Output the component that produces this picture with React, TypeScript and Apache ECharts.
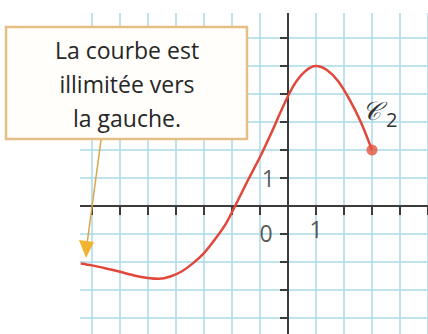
import React, { useEffect, useRef } from "react";
import * as echarts from "echarts";

// ---- data ----
const curveX = [-7.4, -7, -6.5, -6, -5.5, -5, -4.6, -4.2, -3.8, -3.4, -3, -2.6, -2.2, -1.8, -1.4, -1, -0.6, -0.2, 0.2, 0.6, 1, 1.4, 1.8, 2.2, 2.6, 3];
const curveY = [-2.05, -2.12, -2.23, -2.35, -2.48, -2.57, -2.6, -2.52, -2.34, -2.05, -1.68, -1.18, -0.6, 0.18, 0.98, 1.75, 2.6, 3.5, 4.3, 4.8, 5.0, 4.85, 4.45, 3.8, 3.0, 2.0];
const endPoint = [3, 2];
const xRange = [-8, 5];
const yRange = [-5, 7];
const xTickLabel = { value: 1, text: "1" };
const yTickLabel = { value: 1, text: "1" };
const originLabel = "0";
const annotationLines = ["La courbe est", "illimitée vers", "la gauche."];
const curveName = "𝒞";
const curveIndex = "2";

const GRID_COLOR = "#a9dae8";
const AXIS_COLOR = "#3b3b3b";
const CURVE_COLOR = "#e2473b";
const FONT = "'Open Sans', 'DejaVu Sans', sans-serif";

export default function App() {
  const ref = useRef<HTMLDivElement>(null);

  useEffect(() => {
    document.body.style.margin = "0";
    const chart = echarts.init(ref.current!, null, { renderer: "svg" });
    const curveData = curveX.map((x, i) => [x, curveY[i]]);

    const baseAxis = (min: number, max: number) => ({
      type: "value" as const,
      min,
      max,
      interval: 1,
    });

    const labelSeries = (point: number[], text: string, label: any) => ({
      type: "scatter",
      xAxisIndex: 1,
      yAxisIndex: 1,
      z: 5,
      silent: true,
      symbolSize: 0,
      data: [point],
      itemStyle: { color: "transparent" },
      label: {
        show: true,
        formatter: () => text,
        color: "#2e2e2e",
        fontSize: 23,
        fontFamily: FONT,
        ...label,
      },
    });

    chart.setOption({
      animation: false,
      backgroundColor: "#ffffff",
      grid: {
        left: 64,
        top: 10,
        width: 364,
        height: 336,
        containLabel: false,
        outerBoundsMode: "none",
      },
      xAxis: [
        {
          ...baseAxis(xRange[0], xRange[1]),
          z: 0,
          axisLine: { show: false },
          axisTick: { show: false },
          axisLabel: { show: false },
          splitLine: { show: true, lineStyle: { color: GRID_COLOR, width: 1.5 } },
        },
        {
          ...baseAxis(xRange[0], xRange[1]),
          z: 2,
          position: "bottom",
          axisLine: { show: true, onZero: true, onZeroAxisIndex: 1, lineStyle: { color: AXIS_COLOR, width: 2 } },
          axisTick: { show: true, inside: false, length: 9, lineStyle: { color: AXIS_COLOR, width: 2 } },
          axisLabel: { show: false },
          splitLine: { show: false },
        },
      ],
      yAxis: [
        {
          ...baseAxis(yRange[0], yRange[1]),
          z: 0,
          axisLine: { show: false },
          axisTick: { show: false },
          axisLabel: { show: false },
          splitLine: { show: true, lineStyle: { color: GRID_COLOR, width: 1.5 } },
        },
        {
          ...baseAxis(yRange[0], yRange[1]),
          z: 2,
          position: "left",
          axisLine: { show: true, onZero: true, onZeroAxisIndex: 1, lineStyle: { color: AXIS_COLOR, width: 2 } },
          axisTick: { show: true, inside: false, length: 8, lineStyle: { color: AXIS_COLOR, width: 2 } },
          axisLabel: { show: false },
          splitLine: { show: false },
        },
      ],
      series: [
        {
          type: "line",
          xAxisIndex: 1,
          yAxisIndex: 1,
          z: 3,
          data: curveData,
          smooth: 0.3,
          showSymbol: false,
          lineStyle: { color: CURVE_COLOR, width: 2.5 },
        },
        {
          type: "scatter",
          xAxisIndex: 1,
          yAxisIndex: 1,
          z: 4,
          data: [endPoint],
          symbolSize: 11,
          itemStyle: { color: "#e5533a" },
        },
        labelSeries([xTickLabel.value, 0], xTickLabel.text, { position: "bottom", distance: 11 }),
        labelSeries([0, yTickLabel.value], yTickLabel.text, { position: "left", distance: 13 }),
        labelSeries([0, 0], originLabel, { position: "inside", offset: [-22, 27] }),
      ],
      graphic: [
        // white margin left of and above the grid paper
        { type: "rect", z: 2.5, shape: { x: 0, y: 0, width: 80, height: 334 }, style: { fill: "#ffffff" } },
        { type: "rect", z: 2.5, shape: { x: 0, y: 0, width: 428, height: 13 }, style: { fill: "#ffffff" } },
        // annotation box
        {
          type: "rect",
          z: 10,
          shape: { x: 6, y: 27, width: 241, height: 112 },
          style: { fill: "#fffefa", stroke: "#e6bf85", lineWidth: 2.5 },
        },
        {
          type: "text",
          z: 11,
          x: 127,
          y: 33,
          style: {
            text: annotationLines.join("\n"),
            fill: "#262626",
            font: `23px ${FONT}`,
            align: "center",
            verticalAlign: "top",
            lineHeight: 34,
          },
        },
        // arrow
        {
          type: "line",
          z: 11,
          shape: { x1: 101, y1: 140, x2: 87, y2: 244 },
          style: { stroke: "#d9a54a", lineWidth: 1.5 },
        },
        {
          type: "polygon",
          z: 11,
          shape: { points: [[79, 240], [94, 242], [86, 258]] },
          style: { fill: "#f2b331" },
        },
        // curve name
        {
          type: "text",
          z: 11,
          x: 362,
          y: 111,
          style: {
            text: `{c|${curveName}}{s|${curveIndex}}`,
            verticalAlign: "middle",
            rich: {
              c: { fontSize: 26, fontFamily: "'DejaVu Serif', serif", fill: "#333", fontStyle: "italic" },
              s: { fontSize: 20, fontFamily: FONT, fill: "#333", padding: [16, 0, 0, 5] },
            },
          },
        },
      ],
    });

    return () => chart.dispose();
  }, []);

  return (
    <div
      ref={ref}
      style={{ position: "fixed", left: 0, top: 0, width: 428, height: 334, background: "#fff" }}
    />
  );
}
